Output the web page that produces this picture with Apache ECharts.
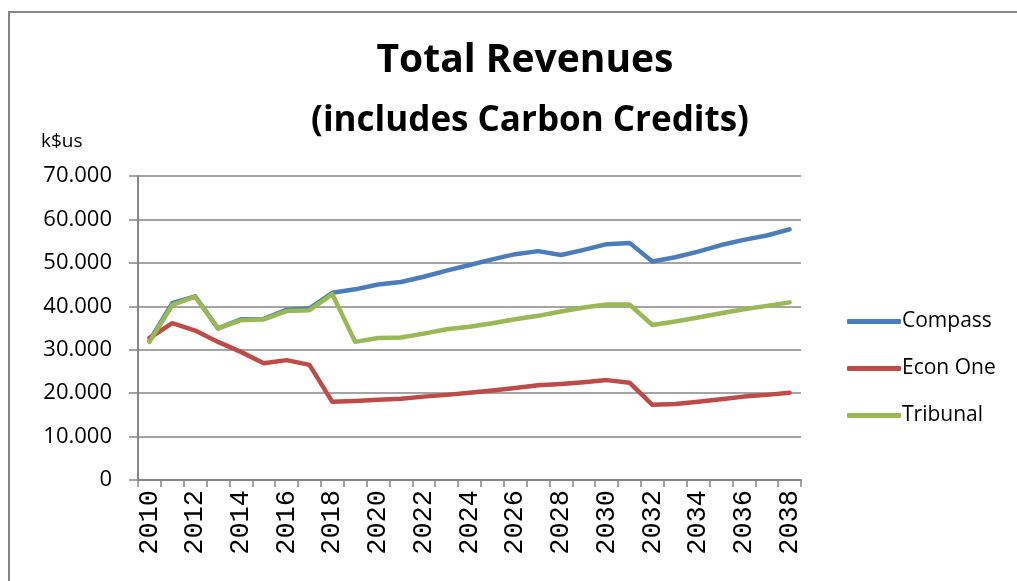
<!DOCTYPE html>
<html>
<head>
<meta charset="utf-8">
<script src="https://cdn.jsdelivr.net/npm/echarts@6/dist/echarts.min.js"></script>
<style>
html,body{margin:0;padding:0;background:#fff;}
#chart{width:1017px;height:581px;}
</style>
</head>
<body>
<div id="chart"></div>
<script>
const years = ['2010','2011','2012','2013','2014','2015','2016','2017','2018','2019','2020','2021','2022','2023','2024','2025','2026','2027','2028','2029','2030','2031','2032','2033','2034','2035','2036','2037','2038'];
const compass = [32000, 40700, 42300, 34900, 37000, 37100, 39200, 39500, 43100, 43900, 45000, 45600, 46800, 48200, 49500, 50800, 52000, 52700, 51800, 53000, 54300, 54600, 50300, 51300, 52600, 54100, 55300, 56300, 57700];
const econOne = [32700, 36100, 34400, 31800, 29500, 26900, 27600, 26500, 18000, 18200, 18500, 18700, 19200, 19600, 20100, 20600, 21200, 21800, 22100, 22500, 23000, 22400, 17300, 17500, 18000, 18600, 19200, 19600, 20100];
const tribunal = [31800, 40300, 42200, 34900, 36800, 37000, 38900, 39100, 42800, 31800, 32700, 32800, 33700, 34700, 35300, 36100, 37000, 37800, 38800, 39700, 40400, 40400, 35700, 36500, 37400, 38400, 39300, 40100, 40900];
const seriesNames = ['Compass', 'Econ One', 'Tribunal'];
const colors = ['#4A7EBB', '#BE4B48', '#98B954'];
const titleText = 'Total Revenues';
const subtitleText = '(includes Carbon Credits)';
const unitText = 'k$us';

const FONT = 'Open Sans';
const chart = echarts.init(document.getElementById('chart'));
const fmt = v => v === 0 ? '0' : (v/1000).toFixed(0) + '.000';
const mk = (name, data, i) => ({
  name, type: 'line', data, showSymbol: false, symbol: 'none',
  lineStyle: {width: 4.5, color: colors[i], cap: 'round', join: 'round'},
  itemStyle: {color: colors[i]},
  emphasis: {disabled: true}, animation: false
});
chart.setOption({
  animation: false,
  title: [
    {text: titleText, left: 520, textAlign: 'center', top: 36,
     textStyle: {fontFamily: FONT, fontWeight: 'bold', fontSize: 39, color: '#000'}},
    {text: subtitleText, left: 525, textAlign: 'center', top: 99,
     textStyle: {fontFamily: FONT, fontWeight: 'bold', fontSize: 35, color: '#000'}}
  ],
  graphic: [
    {type: 'rect', shape: {x: 9, y: 12, width: 1200, height: 800},
     style: {fill: 'none', stroke: '#868686', lineWidth: 2}, silent: true},
    {type: 'text', left: 41, top: 132,
     style: {text: unitText, fontFamily: FONT, fontSize: 19, fill: '#000'}}
  ],
  grid: {left: 138, top: 176, width: 663, height: 304, containLabel: false},
  legend: {
    orient: 'vertical', left: 842, top: 306, itemGap: 26, itemWidth: 54, itemHeight: 5,
    icon: 'roundRect',
    textStyle: {fontFamily: FONT, fontSize: 21, color: '#000', padding: [0,0,0,-4]},
    data: seriesNames
  },
  xAxis: {
    type: 'category', data: years, boundaryGap: true,
    axisLine: {lineStyle: {color: '#868686', width: 2}},
    axisTick: {show: true, interval: 0, length: 7, lineStyle: {color: '#868686', width: 1.5}},
    axisLabel: {interval: 1, rotate: 90, margin: 10, fontFamily: 'Liberation Mono', fontSize: 27, color: '#000'}
  },
  yAxis: {
    type: 'value', min: 0, max: 70000, interval: 10000,
    axisLine: {show: true, lineStyle: {color: '#868686', width: 2}},
    axisTick: {show: true, length: 9, lineStyle: {color: '#868686', width: 1.5}},
    splitLine: {lineStyle: {color: '#868686', width: 1.5}},
    axisLabel: {formatter: fmt, margin: 26, fontFamily: FONT, fontSize: 22, color: '#000'}
  },
  series: [mk(seriesNames[0], compass, 0), mk(seriesNames[1], econOne, 1), mk(seriesNames[2], tribunal, 2)]
});
</script>
</body>
</html>
